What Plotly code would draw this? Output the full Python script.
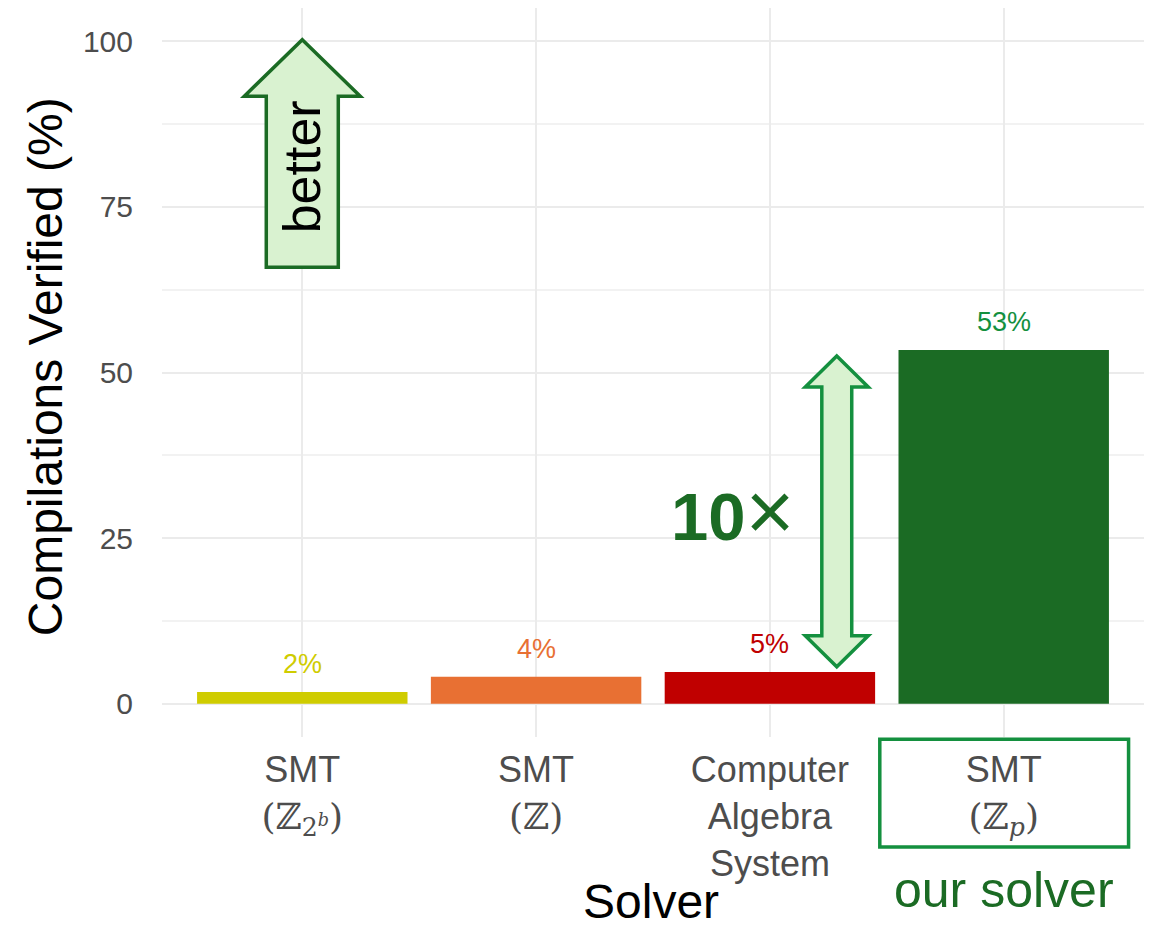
import plotly.graph_objects as go

# ---- data ----
categories = ["SMT (Z2^b)", "SMT (Z)", "Computer Algebra System", "SMT (Zp)"]
tick_labels = [
    "SMT<br><span style=\"font-family:DejaVu Serif\">(ℤ<sub>2<sup><i>b</i></sup></sub>)</span>",
    "SMT<br><span style=\"font-family:DejaVu Serif\">(ℤ)</span>",
    "Computer<br>Algebra<br>System",
    "SMT<br><span style=\"font-family:DejaVu Serif\">(ℤ<sub><i>p</i></sub>)</span>",
]
values = [1.8, 4.1, 4.8, 53.4]
bar_colors = ["#CFCC00", "#E87033", "#C00000", "#1B6B24"]
label_colors = ["#CFCC00", "#E87033", "#C00000", "#14903F"]
y_ticks = [0, 25, 50, 75, 100]

xs = list(range(len(categories)))
FONT = "Liberation Sans, Arial, sans-serif"
DARK_GREEN = "#1B6B24"
BRIGHT_GREEN = "#14903F"
FILL = "#D9F2D0"

fig = go.Figure()
fig.add_trace(go.Bar(
    x=xs, y=values, width=0.9,
    marker=dict(color=bar_colors, line=dict(width=0)),
    hoverinfo="skip", showlegend=False,
))

# value labels
for x, v, c in zip(xs, values, label_colors):
    fig.add_annotation(x=x, y=v, xref="x", yref="y", text=f"{round(v)}%",
                       showarrow=False, yanchor="bottom", yshift=11,
                       font=dict(family=FONT, size=27, color=c))

def path(points):
    return "M " + " L ".join(f"{px},{py}" for px, py in points) + " Z"

# "better" arrow
bx, btip, bbase, bbot, bhw, bsw = 0.0, 100.2, 91.7, 65.9, 0.248, 0.154
fig.add_shape(type="path", xref="x", yref="y", layer="above",
              path=path([(bx, btip), (bx + bhw, bbase), (bx + bsw, bbase), (bx + bsw, bbot),
                         (bx - bsw, bbot), (bx - bsw, bbase), (bx - bhw, bbase)]),
              fillcolor=FILL, line=dict(color=DARK_GREEN, width=3.5))
fig.add_annotation(x=bx, y=81, xref="x", yref="y", text="better",
                   textangle=-90, showarrow=False, xanchor="center", yanchor="middle",
                   font=dict(family=FONT, size=52, color="black"))

# double arrow 10x
dx, dtop, dbot, dhl, dhw, dsw = 2.286, 52.5, 5.6, 4.68, 0.1346, 0.064
fig.add_shape(type="path", xref="x", yref="y", layer="above",
              path=path([(dx, dtop), (dx + dhw, dtop - dhl), (dx + dsw, dtop - dhl),
                         (dx + dsw, dbot + dhl), (dx + dhw, dbot + dhl), (dx, dbot),
                         (dx - dhw, dbot + dhl), (dx - dsw, dbot + dhl),
                         (dx - dsw, dtop - dhl), (dx - dhw, dtop - dhl)]),
              fillcolor=FILL, line=dict(color=BRIGHT_GREEN, width=3.5))
fig.add_annotation(x=2.115, y=29.1, xref="x", yref="y",
                   text="<b>10</b><span style=\"font-size:84px\">×</span>",
                   xanchor="right", yanchor="middle", showarrow=False,
                   font=dict(family=FONT, size=67, color=DARK_GREEN))

# "our solver" box and label
fig.add_shape(type="rect", xref="x", yref="paper", x0=2.47, x1=3.534, y0=-0.003, y1=-0.151,
              line=dict(color=BRIGHT_GREEN, width=3.5), fillcolor="rgba(0,0,0,0)")
fig.add_annotation(x=3, y=-0.21, xref="x", yref="paper", text="our solver",
                   showarrow=False, xanchor="center", yanchor="middle",
                   font=dict(family=FONT, size=50, color=DARK_GREEN))

# axis titles
fig.add_annotation(x=-0.119, y=0.5075, xref="paper", yref="paper",
                   text="Compilations Verified (%)", textangle=-90, showarrow=False,
                   xanchor="center", yanchor="middle",
                   font=dict(family=FONT, size=48, color="black"))
fig.add_annotation(x=0.498, y=-0.225, xref="paper", yref="paper", text="Solver",
                   showarrow=False, xanchor="center", yanchor="middle", borderpad=0,
                   font=dict(family=FONT, size=48, color="black"))

fig.update_layout(
    width=1155, height=930,
    margin=dict(l=162, r=11, t=8, b=193),
    plot_bgcolor="white", paper_bgcolor="white",
    font=dict(family=FONT),
    bargap=0.1,
)
fig.update_xaxes(
    range=[-0.6, 3.6], tickvals=xs, ticktext=tick_labels,
    showgrid=True, gridcolor="#EBEBEB", gridwidth=2, zeroline=False, showline=False,
    ticks="", tickfont=dict(family=FONT, size=36, color="#4D4D4D"),
    ticklabelstandoff=8,
)
fig.update_yaxes(
    range=[-5, 105], tickvals=y_ticks, showgrid=True, gridcolor="#EBEBEB", gridwidth=2,
    minor=dict(tickvals=[12.5, 37.5, 62.5, 87.5], showgrid=True, gridcolor="#F2F2F2", gridwidth=1.5),
    zeroline=False, showline=False, ticks="",
    tickfont=dict(family=FONT, size=30, color="#4D4D4D"), ticklabelstandoff=28,
)

fig.write_html("out.html")
